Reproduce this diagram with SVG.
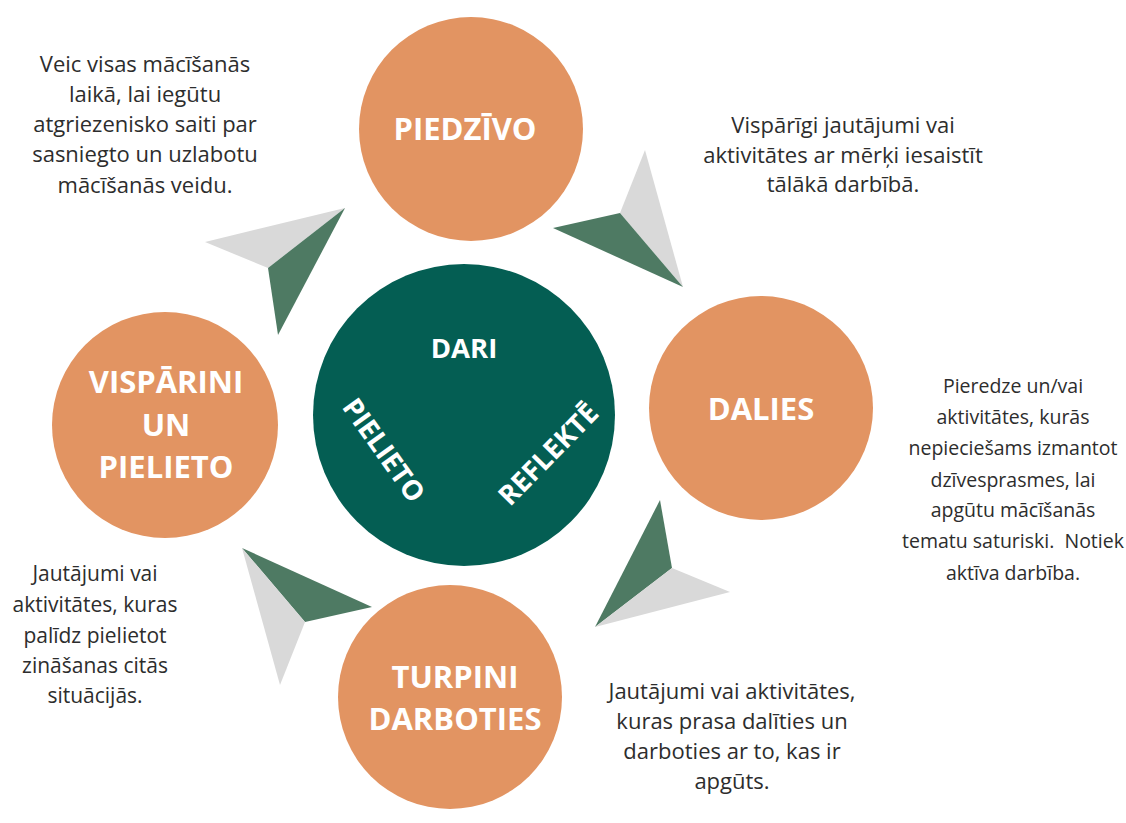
<svg xmlns="http://www.w3.org/2000/svg" width="1126" height="823" viewBox="0 0 1126 823">
<style>
.orange{fill:#E29462}
.core{fill:#045E53}
.lbl{font-family:"Open Sans","Liberation Sans",sans-serif;font-weight:700;fill:#ffffff;text-anchor:middle}
.big{font-size:31px}
.mid{font-size:27.5px}
.desc{font-family:"Open Sans","Liberation Sans",sans-serif;font-size:22px;fill:#2d2d2d;text-anchor:middle}
.sm{font-size:19.5px}
.bl{font-size:21px}
.g{fill:#D9D9D9}
.d{fill:#4E7A63}
</style>
<rect width="1126" height="823" fill="#ffffff"/>
<g id="connectors">
  <g id="arrow-top-right">
    <polygon class="g" points="645,150 620,213 683,287"/>
    <polygon class="d" points="553,228 620,213 683,287"/>
  </g>
  <g id="arrow-top-left">
    <polygon class="g" points="205,242 345,208 268,268"/>
    <polygon class="d" points="268,268 345,208 278,335"/>
  </g>
  <g id="arrow-bottom-right">
    <polygon class="d" points="660,500 672,568 595,627"/>
    <polygon class="g" points="672,568 730,592 595,627"/>
  </g>
  <g id="arrow-bottom-left">
    <polygon class="d" points="242,548 372,607 305,622"/>
    <polygon class="g" points="242,548 305,622 280,685"/>
  </g>
</g>
<g id="node-center">
  <circle class="core" cx="464" cy="415" r="151"/>
  <text class="lbl mid" x="464" y="358">DARI</text>
  <text class="lbl mid" transform="translate(384,450) rotate(54.5)" y="10">PIELIETO</text>
  <text class="lbl mid" transform="translate(548,454) rotate(-45.6)" y="10">REFLEKTĒ</text>
</g>
<g id="node-piedzivo">
  <circle class="orange" cx="471" cy="129" r="112"/>
  <text class="lbl big" x="465" y="140">PIEDZĪVO</text>
</g>
<g id="node-dalies">
  <circle class="orange" cx="761" cy="408" r="112"/>
  <text class="lbl big" x="761" y="420">DALIES</text>
</g>
<g id="node-turpini">
  <circle class="orange" cx="450" cy="697" r="112"/>
  <text class="lbl big" x="455" y="688">TURPINI</text>
  <text class="lbl big" x="455" y="730">DARBOTIES</text>
</g>
<g id="node-visparini">
  <circle class="orange" cx="165" cy="425" r="113"/>
  <text class="lbl big" x="166" y="393">VISPĀRINI</text>
  <text class="lbl big" x="166" y="436">UN</text>
  <text class="lbl big" x="166" y="478">PIELIETO</text>
</g>
<g id="text-top-left">
  <text class="desc" x="145" y="72">Veic visas mācīšanās</text>
  <text class="desc" x="145" y="102">laikā, lai iegūtu</text>
  <text class="desc" x="145" y="132">atgriezenisko saiti par</text>
  <text class="desc" x="145" y="162">sasniegto un uzlabotu</text>
  <text class="desc" x="145" y="193">mācīšanās veidu.</text>
</g>
<g id="text-top-right">
  <text class="desc" x="843" y="133">Vispārīgi jautājumi vai</text>
  <text class="desc" x="843" y="163">aktivitātes ar mērķi iesaistīt</text>
  <text class="desc" x="843" y="192">tālākā darbībā.</text>
</g>
<g id="text-right" class="sm">
  <text class="desc sm" x="1013" y="393">Pieredze un/vai</text>
  <text class="desc sm" x="1013" y="424">aktivitātes, kurās</text>
  <text class="desc sm" x="1013" y="455">nepieciešams izmantot</text>
  <text class="desc sm" x="1013" y="487">dzīvesprasmes, lai</text>
  <text class="desc sm" x="1013" y="517">apgūtu mācīšanās</text>
  <text class="desc sm" x="1013" y="548" xml:space="preserve">tematu saturiski.  Notiek</text>
  <text class="desc sm" x="1013" y="580">aktīva darbība.</text>
</g>
<g id="text-bottom-left">
  <text class="desc bl" x="95" y="581">Jautājumi vai</text>
  <text class="desc bl" x="95" y="612">aktivitātes, kuras</text>
  <text class="desc bl" x="95" y="643">palīdz pielietot</text>
  <text class="desc bl" x="95" y="673">zināšanas citās</text>
  <text class="desc bl" x="95" y="703">situācijās.</text>
</g>
<g id="text-bottom-right">
  <text class="desc" x="732" y="699">Jautājumi vai aktivitātes,</text>
  <text class="desc" x="732" y="729">kuras prasa dalīties un</text>
  <text class="desc" x="732" y="759">darboties ar to, kas ir</text>
  <text class="desc" x="732" y="789">apgūts.</text>
</g>
</svg>
